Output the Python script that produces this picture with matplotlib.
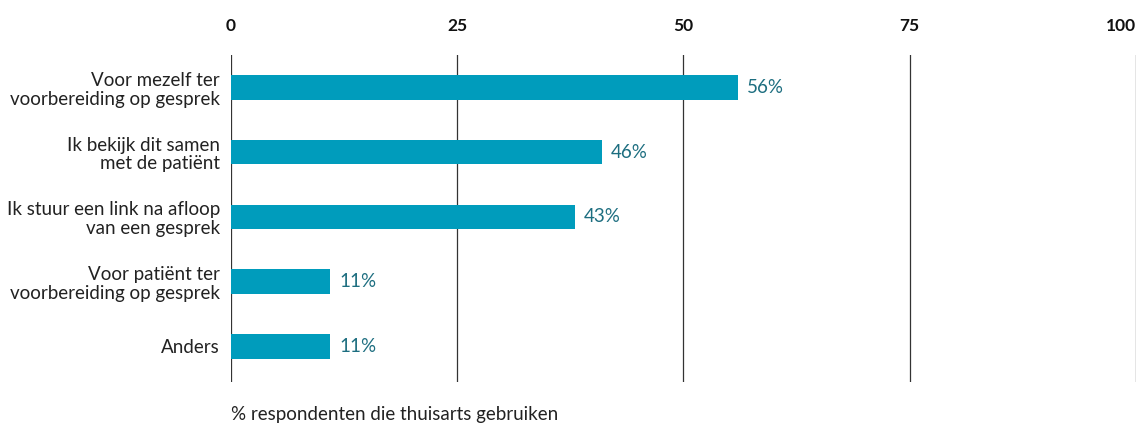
import matplotlib.pyplot as plt

categories = [
    "Voor mezelf ter\nvoorbereiding op gesprek",
    "Ik bekijk dit samen\nmet de patiënt",
    "Ik stuur een link na afloop\nvan een gesprek",
    "Voor patiënt ter\nvoorbereiding op gesprek",
    "Anders",
]
# bar lengths as drawn in the picture; printed labels differ for two rows
values = [56, 41, 38, 11, 11]
labels = ["56%", "46%", "43%", "11%", "11%"]
ticks = [0, 25, 50, 75, 100]

plt.rcParams['font.family'] = ['Lato', 'DejaVu Sans']

fig = plt.figure(figsize=(11.45, 4.23), dpi=100)
ax = fig.add_axes([0.2017, 0.097, 0.7903, 0.773])

y = list(range(len(categories)))
ax.barh(y, values, height=0.38, color="#009cbc", zorder=3)
for yi, v, lab in zip(y, values, labels):
    ax.text(v + 1, yi, lab, va="center", ha="left", fontsize=13.5, color="#1d6e80")

ax.set_xlim(0, 100)
ax.set_ylim(4.55, -0.5)
ax.set_yticks(y)
ax.set_yticklabels(categories, fontsize=13.5, color="#222222", linespacing=1.12)
ax.set_xticks(ticks)
ax.set_xticklabels([str(t) for t in ticks], fontsize=12.5, fontweight="bold", color="#111111")
ax.xaxis.tick_top()
ax.tick_params(axis="x", length=0, pad=15)
ax.tick_params(axis="y", length=0, pad=8)
ax.get_xticklabels()[-1].set_horizontalalignment("right")
ax.get_xticklabels()[-1].set_x(100.2)

for t in ticks:
    ax.axvline(t, color="#333333", linewidth=0.9, zorder=1)
for s in ax.spines.values():
    s.set_visible(False)

fig.text(0.2017, 0.0, "% respondenten die thuisarts gebruiken", fontsize=13.5,
         color="#222222", ha="left", va="bottom")

fig.savefig("out.png", dpi=100)
